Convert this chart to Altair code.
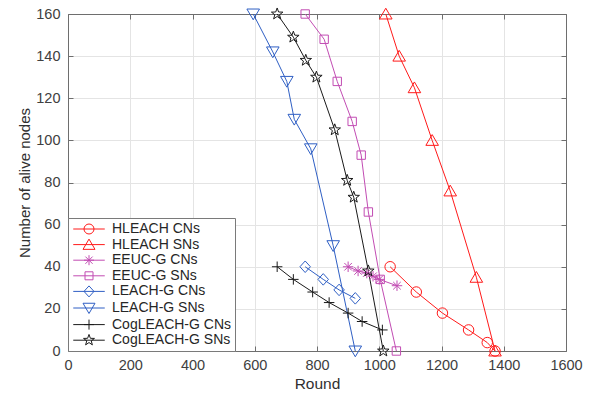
import math
import altair as alt
import pandas as pd

# ---------------- data ----------------
series_names = [
    "HLEACH CNs", "HLEACH SNs", "EEUC-G CNs", "EEUC-G SNs",
    "LEACH-G CNs", "LEACH-G SNs", "CogLEACH-G CNs", "CogLEACH-G SNs",
]

hleach_cn_x = [1035, 1119, 1203, 1287, 1347, 1372]
hleach_cn_y = [40, 28, 18, 10, 4, 0]

hleach_sn_x = [1021, 1064, 1113, 1170, 1228, 1312, 1372]
hleach_sn_y = [160, 140, 125, 100, 76, 35, 0]

eeuc_cn_x = [900, 932, 960, 980, 1000, 1057]
eeuc_cn_y = [40, 38, 37, 35.5, 34, 31]

eeuc_sn_x = [762, 823, 865, 913, 942, 965, 1003, 1055]
eeuc_sn_y = [160, 148, 128, 109, 93, 66, 34, 0]

leach_cn_x = [762, 820, 871, 923]
leach_cn_y = [40, 34, 29, 25]

leach_sn_x = [595, 658, 703, 727, 780, 852, 923]
leach_sn_y = [160, 142, 128, 110, 96, 50, 0]

cog_cn_x = [672, 724, 786, 839, 900, 945, 1010]
cog_cn_y = [40, 34, 28, 23, 18, 14, 10]

cog_sn_x = [672, 724, 764, 798, 857, 897, 918, 965, 1013]
cog_sn_y = [160, 149, 138, 130, 105, 81, 73, 38, 0]

x_ticks = [0, 200, 400, 600, 800, 1000, 1200, 1400, 1600]
y_ticks = [0, 20, 40, 60, 80, 100, 120, 140, 160]

# ---------------- styles ----------------
RED, MAG, BLUE, BLK = "#ff1a1a", "#c24cb3", "#2f5fc4", "#1a1a1a"
colors = [RED, RED, MAG, MAG, BLUE, BLUE, BLK, BLK]


def star_path(s):
    pts = []
    for k in range(10):
        r = (1.15 if k % 2 == 0 else 0.47) * s
        a = math.radians(-90 + 36 * k)
        pts.append(f"{r*math.cos(a):.3f},{r*math.sin(a):.3f}")
    return "M" + "L".join(pts) + "Z"


def marker(kind, s):
    if kind == "circle":
        r = 1.0 * s
        return f"M{r},0A{r},{r} 0 1,1 {-r},0A{r},{r} 0 1,1 {r},0Z"
    if kind == "tri-up":
        return f"M0,{-1.1*s}L{1.2*s},{0.95*s}L{-1.2*s},{0.95*s}Z"
    if kind == "tri-down":
        return f"M0,{1.1*s}L{1.2*s},{-0.95*s}L{-1.2*s},{-0.95*s}Z"
    if kind == "asterisk":
        a = 0.72 * s
        return (f"M{-s},0H{s}M0,{-s}V{s}"
                f"M{-a},{-a}L{a},{a}M{-a},{a}L{a},{-a}")
    if kind == "square":
        q = 0.8 * s
        return f"M{-q},{-q}H{q}V{q}H{-q}Z"
    if kind == "diamond":
        return f"M0,{-1.1*s}L{1.0*s},0L0,{1.1*s}L{-1.0*s},0Z"
    if kind == "plus":
        return f"M{-s},0H{s}M0,{-s}V{s}"
    if kind == "star":
        return star_path(s)


kinds = ["circle", "tri-up", "asterisk", "square",
         "diamond", "tri-down", "plus", "star"]
plot_shapes = [marker(k, 1.0) for k in kinds]
LEG_SIZE = 225  # 15 px box -> 1 unit = 7.5 px
leg_scale = 5.0 / 7.5
legend_shapes = ["M-2.1,0H2.1" + marker(k, leg_scale) for k in kinds]

# ---------------- table ----------------
pairs = [
    (hleach_cn_x, hleach_cn_y), (hleach_sn_x, hleach_sn_y),
    (eeuc_cn_x, eeuc_cn_y), (eeuc_sn_x, eeuc_sn_y),
    (leach_cn_x, leach_cn_y), (leach_sn_x, leach_sn_y),
    (cog_cn_x, cog_cn_y), (cog_sn_x, cog_sn_y),
]
rows = []
for name, (xs_, ys_) in zip(series_names, pairs):
    for i, (xv, yv) in enumerate(zip(xs_, ys_)):
        rows.append({"series": name, "round": xv, "alive": yv, "idx": i})
df = pd.DataFrame(rows)

FONT = "Liberation Sans"
AXIS_C = "#6e6e6e"
GRID_C = "#e4e4e4"
TXT_C = "#404040"

xs = alt.Scale(domain=[0, 1600], nice=False, zero=False)
ys = alt.Scale(domain=[0, 160], nice=False, zero=False)


def cscale():
    return alt.Scale(domain=series_names, range=colors)


base = alt.Chart(df)

lines = base.mark_line(strokeWidth=1, clip=False).encode(
    x=alt.X("round:Q", scale=xs, axis=alt.Axis(
        orient="bottom", values=x_ticks, format="d", grid=True,
        gridColor=GRID_C, ticks=False, tickSize=0, domain=True,
        domainColor=AXIS_C, labelFont=FONT, labelFontSize=14.5,
        labelColor=TXT_C, labelPadding=7, title="Round", titleFont=FONT,
        titleFontSize=15.5, titleColor="#303030", titleFontWeight="normal",
        titlePadding=5, labelFlush=False)),
    y=alt.Y("alive:Q", scale=ys, axis=alt.Axis(
        orient="left", values=y_ticks, format="d", grid=True,
        gridColor=GRID_C, ticks=False, tickSize=0, domain=True,
        domainColor=AXIS_C, labelFont=FONT, labelFontSize=14.5,
        labelColor=TXT_C, labelPadding=8, title="Number of alive nodes",
        titleFont=FONT, titleFontSize=15, titleColor="#303030",
        titleFontWeight="normal", titlePadding=3, labelFlush=False)),
    color=alt.Color("series:N", scale=cscale(), legend=None),
    order="idx:Q",
)

points = base.mark_point(filled=False, size=110, strokeWidth=1, opacity=1,
                         clip=False).encode(
    x=alt.X("round:Q", scale=xs, axis=alt.Axis(
        orient="top", labels=False, ticks=False, tickSize=0, grid=False,
        domain=True, domainColor=AXIS_C, title=None)),
    y=alt.Y("alive:Q", scale=ys, axis=alt.Axis(
        orient="right", labels=False, ticks=False, tickSize=0, grid=False,
        domain=True, domainColor=AXIS_C, title=None)),
    color=alt.Color("series:N", scale=cscale(), legend=None),
    shape=alt.Shape("series:N", scale=alt.Scale(domain=series_names,
                                                range=plot_shapes),
                    legend=None),
)

leg = alt.Legend(
    title=None, orient="bottom-left", offset=0, padding=3,
    strokeColor="#7a7a7a", fillColor="white", cornerRadius=0,
    labelFont=FONT, labelFontSize=14, labelColor="#262626",
    symbolSize=LEG_SIZE, symbolStrokeWidth=1, symbolOffset=10,
    labelOffset=15, rowPadding=0.6, symbolFillColor="transparent",
)

legend_layer = base.transform_filter("false").mark_point(
    filled=False, size=LEG_SIZE, strokeWidth=1, opacity=1).encode(
    x=alt.X("round:Q", scale=xs, axis=alt.Axis(
        orient="bottom", offset=-5, values=x_ticks, ticks=True, tickSize=5,
        tickColor=AXIS_C, labels=False, grid=False, domain=False, title=None)),
    y=alt.Y("alive:Q", scale=ys, axis=alt.Axis(
        orient="left", offset=-5, values=y_ticks, ticks=True, tickSize=5,
        tickColor=AXIS_C, labels=False, grid=False, domain=False, title=None)),
    color=alt.Color("series:N", scale=cscale(), legend=leg),
    shape=alt.Shape("series:N", scale=alt.Scale(domain=series_names,
                                                range=legend_shapes),
                    legend=leg),
)

tick_layer = base.transform_filter("false").mark_point(opacity=1).encode(
    x=alt.X("round:Q", scale=xs, axis=alt.Axis(
        orient="top", offset=-5, values=x_ticks, ticks=True, tickSize=5,
        tickColor=AXIS_C, labels=False, grid=False, domain=False, title=None)),
    y=alt.Y("alive:Q", scale=ys, axis=alt.Axis(
        orient="right", offset=-5, values=y_ticks, ticks=True, tickSize=5,
        tickColor=AXIS_C, labels=False, grid=False, domain=False, title=None)),
)

chart = alt.layer(lines, points, legend_layer, tick_layer).resolve_axis(
    x="independent", y="independent"
).resolve_scale(shape="independent", color="independent").properties(
    width=498, height=337,
    padding={"left": 68, "top": 14, "right": 29, "bottom": 43},
    autosize=alt.AutoSizeParams(type="none"),
    background="white",
).configure_view(stroke=None)

chart.save("out.html", embed_options={"renderer": "svg", "actions": False})
